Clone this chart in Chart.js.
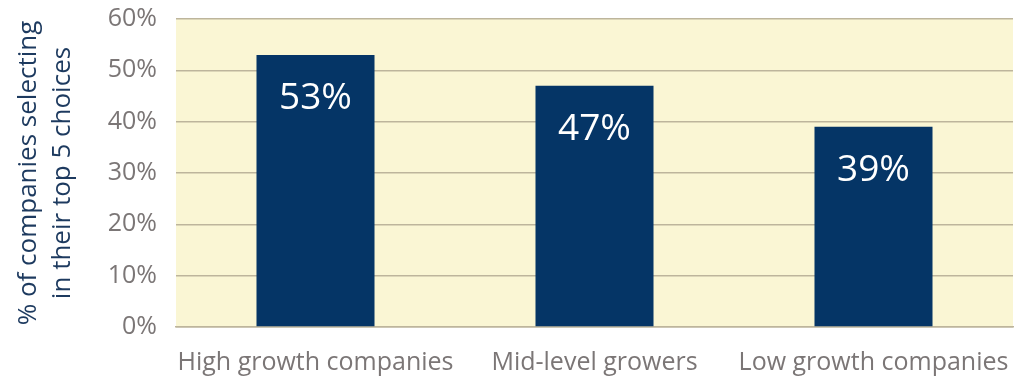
<!DOCTYPE html>
<html>
<head>
<meta charset="utf-8">
<script src="https://cdn.jsdelivr.net/npm/chart.js@4"></script>
<style>
  html, body { margin: 0; padding: 0; background: #ffffff; }
  #wrap { width: 1024px; height: 383px; }
</style>
</head>
<body>
<div id="wrap"><canvas id="c" width="1024" height="383"></canvas></div>
<script>
const categories = ["High growth companies", "Mid-level growers", "Low growth companies"];
const values = [53, 47, 39];
const valueLabels = ["53%", "47%", "39%"];
const yTitleLines = ["% of companies selecting", "in their top 5 choices"];

const FONT = "'Open Sans', 'Noto Sans', sans-serif";

const plotBg = {
  id: 'plotBg',
  beforeDraw(chart) {
    const {ctx, chartArea: a} = chart;
    ctx.save();
    ctx.fillStyle = '#faf6d4';
    ctx.fillRect(a.left, a.top, a.right - a.left, a.bottom - a.top);
    ctx.restore();
  }
};

const barLabels = {
  id: 'barLabels',
  afterDatasetsDraw(chart) {
    const {ctx} = chart;
    const meta = chart.getDatasetMeta(0);
    ctx.save();
    ctx.fillStyle = '#ffffff';
    ctx.font = "37px " + FONT;
    ctx.textAlign = 'center';
    ctx.textBaseline = 'middle';
    meta.data.forEach((bar, i) => {
      ctx.fillText(valueLabels[i], bar.x, bar.y + 44);
    });
    ctx.restore();
  }
};

new Chart(document.getElementById('c'), {
  type: 'bar',
  data: {
    labels: categories,
    datasets: [{
      data: values,
      backgroundColor: '#053566',
      borderWidth: 0,
      categoryPercentage: 1.0,
      barPercentage: 0.423
    }]
  },
  options: {
    responsive: false,
    animation: false,
    devicePixelRatio: 1,
    layout: { padding: { top: 19, right: 11, left: 0, bottom: 0 } },
    plugins: { legend: { display: false }, tooltip: { enabled: false } },
    scales: {
      x: {
        grid: { display: false, drawTicks: false },
        border: { display: true, color: '#bdb59c', width: 1.5 },
        ticks: { color: '#7b7676', font: { family: FONT, size: 25 }, padding: 21, maxRotation: 0, autoSkip: false },
        afterFit(scale) { scale.height = 56; scale.paddingLeft = 0; scale.paddingRight = 0; }
      },
      y: {
        min: 0, max: 60,
        ticks: { stepSize: 10, color: '#7b7676', font: { family: FONT, size: 25 }, padding: 19,
                 callback: v => v + '%' },
        grid: { color: '#bdb59c', lineWidth: 1.5, drawTicks: false },
        border: { display: false },
        title: { display: true, text: yTitleLines, color: '#1d3a5f',
                 font: { family: FONT, size: 26, lineHeight: 1.3 }, padding: { top: 12, bottom: 0 } },
        afterFit(scale) { scale.width = 176; scale.paddingTop = 0; scale.paddingBottom = 0; }
      }
    }
  },
  plugins: [plotBg, barLabels]
});
</script>
</body>
</html>
